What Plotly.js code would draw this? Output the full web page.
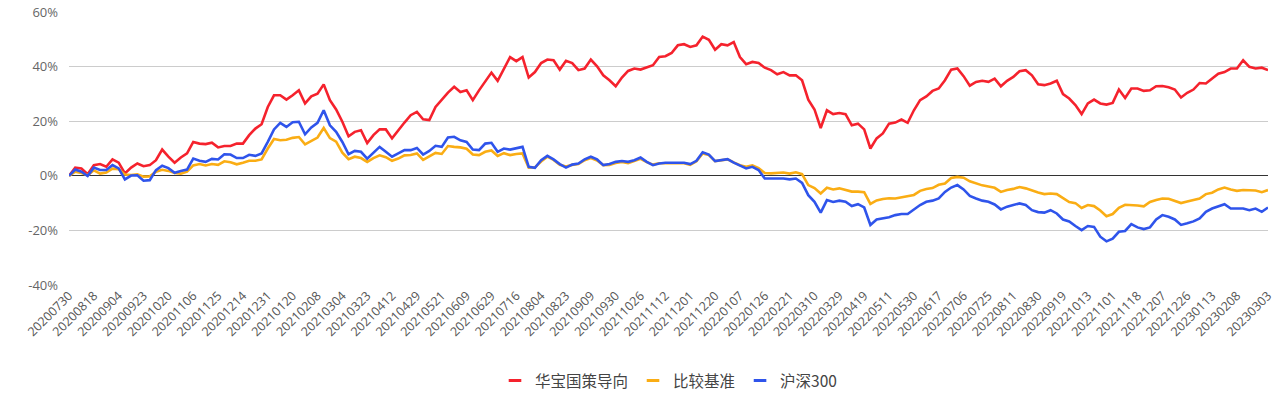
<!DOCTYPE html>
<html>
<head>
<meta charset="utf-8">
<script src="https://cdn.plot.ly/plotly-3.0.1.min.js"></script>
<style>
html,body{margin:0;padding:0;background:#ffffff;}
#chart{width:1280px;height:396px;}
</style>
</head>
<body>
<div id="chart"></div>
<script>
// Trading-day samples (category axis)
const dates = [
"20200730","20200804","20200807","20200812",
"20200818","20200821","20200826","20200831",
"20200904","20200909","20200914","20200917",
"20200923","20200928","20201009","20201014",
"20201020","20201023","20201028","20201102",
"20201106","20201111","20201116","20201119",
"20201125","20201130","20201203","20201208",
"20201214","20201217","20201222","20201225",
"20201231","20210106","20210111","20210114",
"20210120","20210125","20210128","20210202",
"20210208","20210219","20210224","20210301",
"20210304","20210309","20210312","20210317",
"20210323","20210326","20210331","20210407",
"20210412","20210415","20210420","20210423",
"20210429","20210507","20210512","20210517",
"20210521","20210526","20210531","20210603",
"20210609","20210615","20210618","20210623",
"20210629","20210702","20210707","20210712",
"20210716","20210721","20210726","20210729",
"20210804","20210809","20210812","20210817",
"20210823","20210826","20210831","20210903",
"20210909","20210914","20210917","20210924",
"20210930","20211011","20211014","20211019",
"20211026","20211029","20211103","20211108",
"20211112","20211117","20211122","20211125",
"20211201","20211206","20211209","20211214",
"20211220","20211223","20211228","20220104",
"20220107","20220112","20220117","20220120",
"20220126","20220208","20220211","20220216",
"20220221","20220224","20220301","20220304",
"20220310","20220315","20220318","20220323",
"20220329","20220401","20220411","20220414",
"20220419","20220422","20220427","20220506",
"20220511","20220516","20220519","20220524",
"20220530","20220602","20220609","20220614",
"20220617","20220622","20220627","20220630",
"20220706","20220711","20220714","20220719",
"20220725","20220728","20220802","20220805",
"20220811","20220816","20220819","20220824",
"20220830","20220902","20220907","20220914",
"20220919","20220922","20220927","20221010",
"20221013","20221018","20221021","20221026",
"20221101","20221104","20221109","20221114",
"20221118","20221123","20221128","20221201",
"20221207","20221212","20221215","20221220",
"20221226","20221229","20230105","20230110",
"20230113","20230118","20230130","20230202",
"20230208","20230213","20230216","20230221","20230227",
"20230303"
];

const tickLabels = [
"20200730","20200818","20200904","20200923","20201020","20201106","20201125","20201214",
"20201231","20210120","20210208","20210304","20210323","20210412","20210429","20210521",
"20210609","20210629","20210716","20210804","20210823","20210909","20210930","20211026",
"20211112","20211201","20211220","20220107","20220126","20220221","20220310","20220329",
"20220419","20220511","20220530","20220617","20220706","20220725","20220811","20220830",
"20220919","20221013","20221101","20221118","20221207","20221226","20230113","20230208",
"20230303"
];

// 华宝国策导向 cumulative return (%)
const fundReturn = [
0,3.0,2.7,0.6, 3.9,4.3,3.3,6.0, 4.8,0.9,3.0,4.5, 3.5,3.9,5.7,9.6,
7.0,4.8,6.7,8.2, 12.4,11.8,11.6,12.1, 10.4,10.9,10.9,11.8, 11.8,14.9,17.3,18.9,
25.2,29.5,29.5,27.9, 29.5,31.3,26.5,29.1, 30.1,33.5,27.7,24.3, 19.8,14.5,16.1,16.7,
12.0,14.9,17.0,17.0, 13.7,16.7,19.5,22.2, 23.4,20.7,20.4,25.2, 27.9,30.5,32.6,30.7,
31.3,27.7,31.3,34.8, 37.8,34.8,39.3,43.5, 42.0,43.5,36.0,38.0, 41.3,42.6,42.3,38.9,
42.1,41.3,38.7,39.3, 42.6,40.1,36.8,35.0, 32.8,36.0,38.4,39.3, 38.9,39.6,40.5,43.5,
43.8,45.0,47.8,48.2, 47.2,47.8,51.0,49.8, 46.2,48.2,47.8,49.0, 43.5,40.9,41.7,41.3,
39.6,38.7,37.2,38.0, 36.8,36.8,35.0,27.9, 24.3,17.5,24.0,22.6, 23.0,22.6,18.5,19.1,
17.0,10.0,13.7,15.5, 19.1,19.5,20.6,19.4, 24.0,27.7,29.1,31.1, 32.0,35.0,38.9,39.3,
36.5,33.0,34.4,34.8, 34.4,35.6,32.8,34.8, 36.2,38.3,38.7,36.8, 33.5,33.2,33.8,34.8,
29.9,28.3,25.9,22.6, 26.5,27.9,26.5,26.1, 26.7,31.6,28.5,32.0, 32.0,31.1,31.3,32.8,
32.9,32.4,31.6,28.7, 30.4,31.6,34.0,33.8, 35.6,37.4,38.0,39.3,
39.3,42.3,39.9,39.3,39.6, 38.7
];

// 比较基准 cumulative return (%)
const benchmarkReturn = [
0,1.5,1.0,0.2, 2.0,0.8,1.2,2.6, 2.4,0.5,0.3,0.5, -0.3,-0.2,1.5,2.2,
1.8,1.0,0.8,1.5, 3.8,4.3,3.8,4.3, 4.0,5.3,5.0,4.2, 4.8,5.5,5.5,6.0,
10.0,13.5,13.0,13.2, 13.9,14.2,11.5,12.8, 14.0,17.5,13.8,12.5, 8.5,6.1,7.0,6.5,
5.1,6.5,7.5,6.8, 5.5,6.3,7.5,7.6, 8.2,5.8,7.2,8.4, 8.0,10.9,10.6,10.4,
9.9,7.8,7.6,8.8, 9.3,7.3,8.3,7.6, 8.0,8.2,3.0,3.1, 5.2,7.0,5.8,4.0,
3.4,4.0,4.3,5.7, 6.5,5.6,3.9,4.0, 4.7,5.1,4.6,5.3, 6.2,5.0,4.1,4.6,
4.6,4.6,4.5,4.6, 4.0,5.3,8.2,7.6, 5.4,5.6,6.0,4.9, 3.9,3.3,3.8,2.8,
1.0,0.9,1.0,1.2, 0.8,1.3,0.6,-3.4, -4.5,-6.5,-4.4,-5.0, -4.6,-5.2,-5.8,-5.8,
-6.0,-10.3,-9.0,-8.5, -8.2,-8.3,-7.8,-7.5, -7.0,-5.5,-4.8,-4.5, -3.3,-2.8,-0.8,-0.4,
-0.7,-2.0,-2.8,-3.5, -3.9,-4.4,-5.9,-5.2, -4.8,-4.1,-4.6,-5.4, -6.1,-6.7,-6.5,-6.7,
-8.0,-9.6,-10.0,-11.8, -10.7,-11.1,-12.7,-14.8, -14.0,-11.7,-10.6,-10.7, -10.9,-11.2,-9.6,-8.9,
-8.3,-8.4,-9.3,-10.0, -9.4,-8.9,-8.3,-6.7, -6.2,-5.0,-4.3,-5.0,
-5.5,-5.2,-5.2,-5.4,-6.0, -5.2
];

// 沪深300 cumulative return (%)
const csi300Return = [
0,2.3,1.5,-0.1, 3.0,2.1,2.1,3.9, 2.7,-1.3,0.1,0.2, -1.8,-1.6,2.1,3.7,
2.8,1.1,1.8,2.3, 6.3,5.5,5.1,6.2, 6.0,7.9,7.8,6.5, 6.5,7.7,7.3,8.2,
12.4,17.0,19.4,17.9, 19.6,19.8,15.2,17.7, 19.4,24.0,18.5,16.1, 12.4,7.9,9.1,8.8,
6.3,8.4,10.6,8.8, 7.0,8.2,9.4,9.4, 10.2,7.8,9.1,11.0, 10.6,14.0,14.3,13.0,
12.4,9.6,9.4,11.8, 12.1,8.8,10.0,9.6, 10.2,10.6,3.3,2.9, 5.7,7.3,6.0,4.3,
3.0,4.1,4.5,6.0, 7.0,6.0,3.9,4.3, 5.1,5.4,5.1,5.7, 6.7,5.1,3.9,4.5,
4.8,4.8,4.8,4.8, 4.3,5.5,8.6,7.8, 5.4,5.7,6.1,4.8, 3.7,2.7,3.3,2.1,
-1.0,-1.0,-1.2,-1.0, -1.3,-1.0,-2.6,-7.1, -9.5,-13.5,-8.9,-9.6, -9.1,-9.5,-11.1,-10.4,
-11.6,-18.0,-16.0,-15.6, -15.2,-14.4,-14.0,-14.0, -12.3,-10.7,-9.5,-9.1, -8.3,-5.9,-4.3,-3.4,
-5.0,-7.4,-8.3,-9.1, -9.5,-10.5,-12.3,-11.3, -10.7,-10.1,-10.7,-12.6, -13.3,-13.5,-12.6,-13.8,
-16.0,-16.7,-18.4,-19.9, -18.4,-18.7,-22.3,-24.0, -23.0,-20.5,-20.2,-17.7, -18.9,-19.5,-18.9,-16.0,
-14.4,-15.0,-16.0,-18.0, -17.4,-16.7,-15.6,-13.2, -12.0,-11.1,-10.4,-12.0,
-12.1,-12.0,-12.6,-12.0,-13.2, -11.6
];

const seriesNames = ["华宝国策导向", "比较基准", "沪深300"];
const seriesColors = ["#F5222D", "#FAAD14", "#2F54EB"];
const yTickValues = [-40, -20, 0, 20, 40, 60];
const yTickText = ["-40%", "-20%", "0%", "20%", "40%", "60%"];

const seriesValues = [fundReturn, benchmarkReturn, csi300Return];

// Data lines
const lineTraces = seriesValues.map((vals, k) => ({
  type: "scatter",
  mode: "lines",
  name: seriesNames[k],
  legendgroup: "g" + k,
  showlegend: false,
  x: dates,
  y: vals,
  line: { color: seriesColors[k], width: 2.6, shape: "linear" },
  hovertemplate: "%{x}<br>%{y:.2f}%<extra>" + seriesNames[k] + "</extra>"
}));

// Legend entries with a short dash symbol (ECharts-style)
const legendTraces = seriesNames.map((name, k) => ({
  type: "scatter",
  mode: "markers",
  name: name,
  legendgroup: "g" + k,
  showlegend: true,
  x: [null],
  y: [null],
  hoverinfo: "skip",
  marker: { symbol: "line-ew-open", size: 9, color: seriesColors[k], line: { color: seriesColors[k], width: 3 } }
}));

const layout = {
  width: 1280,
  height: 396,
  margin: { l: 69, r: 12, t: 12, b: 111, pad: 0, autoexpand: false },
  paper_bgcolor: "#ffffff",
  plot_bgcolor: "#ffffff",
  font: { family: "'Open Sans', 'Noto Sans CJK SC', sans-serif", color: "#555555", size: 12 },
  showlegend: true,
  legend: {
    orientation: "h",
    x: 0.5, xanchor: "center",
    yref: "container",
    y: 0.038, yanchor: "middle",
    itemwidth: 30,
    tracegroupgap: 0,
    font: { family: "'Noto Sans CJK SC', 'Open Sans', sans-serif", size: 15.5, color: "#444444" },
    bgcolor: "rgba(0,0,0,0)"
  },
  xaxis: {
    type: "category",
    range: [0, dates.length - 1],
    tickmode: "array",
    tickvals: tickLabels,
    ticktext: tickLabels,
    tickangle: -45,
    ticks: "",
    showgrid: false,
    showline: false,
    zeroline: false,
    automargin: false,
    tickfont: { family: "'Open Sans', sans-serif", size: 12.5, color: "#555555" },
    fixedrange: true
  },
  yaxis: {
    range: [-40, 60],
    tickmode: "array",
    tickvals: yTickValues,
    ticktext: yTickText,
    showgrid: true,
    gridcolor: "#cccccc",
    gridwidth: 1,
    zeroline: true,
    zerolinecolor: "#333333",
    zerolinewidth: 1,
    showline: false,
    ticks: "",
    automargin: false,
    ticklabelstandoff: 10,
    tickfont: { family: "'Open Sans', sans-serif", size: 13, color: "#666666" },
    fixedrange: true
  }
};

Plotly.newPlot("chart", lineTraces.concat(legendTraces), layout, { displayModeBar: false, responsive: false });
</script>
</body>
</html>
